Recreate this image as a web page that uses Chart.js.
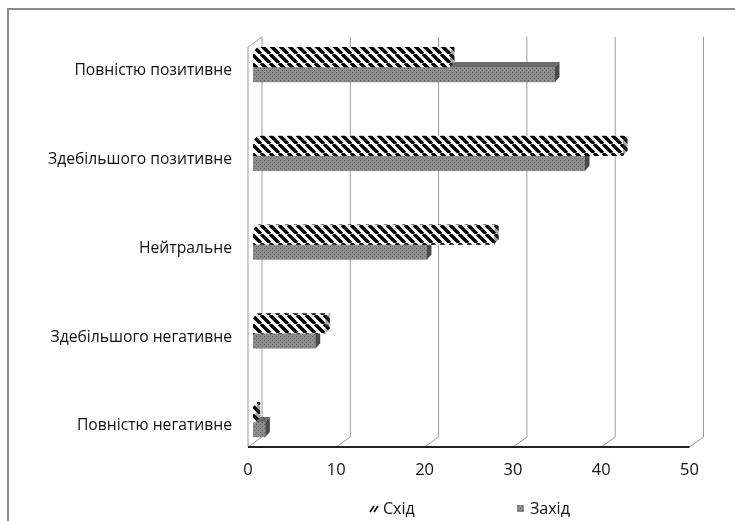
<!DOCTYPE html>
<html>
<head>
<meta charset="utf-8">
<script src="https://cdn.jsdelivr.net/npm/chart.js@4.4.1/dist/chart.umd.min.js"></script>
<style>
  html, body { margin: 0; padding: 0; background: #fff; }
  #wrap { position: relative; width: 735px; height: 521px; overflow: hidden; }
  #legend { position: absolute; left: 0; top: 498px; width: 735px; height: 20px;
            font-family: 'Open Sans', sans-serif; font-size: 16px; color: #111; }
  .item { position: absolute; top: 0; height: 20px; display: flex; align-items: center; white-space: nowrap; }
  .item canvas { margin-right: 4px; }
</style>
</head>
<body>
<div id="wrap">
  <canvas id="c" width="735" height="521"></canvas>
  <div id="legend"></div>
</div>
<script>
// ---- data ----
const categories = ['Повністю позитивне', 'Здебільшого позитивне', 'Нейтральне', 'Здебільшого негативне', 'Повністю негативне'];
const seriesNames = ['Схід', 'Захід'];
const eastValues = [22.3, 41.9, 27.3, 8.2, 0.3];
const westValues = [34.2, 37.6, 19.7, 7.1, 1.4];
const xTicks = [0, 10, 20, 30, 40, 50];

// ---- fills ----
function hatchPattern(ctx) {
  const p = 9;
  const c = document.createElement('canvas');
  c.width = p; c.height = p;
  const g = c.getContext('2d');
  g.fillStyle = '#fff'; g.fillRect(0, 0, p, p);
  g.strokeStyle = '#000'; g.lineWidth = 3.4;
  for (const o of [-p, 0, p]) { g.beginPath(); g.moveTo(o, 0); g.lineTo(o + p, p); g.stroke(); }
  return ctx.createPattern(c, 'repeat');
}
function dotPattern(ctx, base, dot) {
  const c = document.createElement('canvas');
  c.width = 4; c.height = 4;
  const g = c.getContext('2d');
  g.fillStyle = base; g.fillRect(0, 0, 4, 4);
  g.fillStyle = dot; g.fillRect(0, 0, 1, 1); g.fillRect(2, 2, 1, 1);
  return ctx.createPattern(c, 'repeat');
}

const canvas = document.getElementById('c');
const ctx = canvas.getContext('2d');
const hatch = hatchPattern(ctx);
const dots = dotPattern(ctx, '#8c8c8c', '#666666');

const faceStyles = [
  { top: hatch, topShade: 'rgba(0,0,0,0.08)', side: hatch, sideShade: 'rgba(60,60,60,0.45)' },
  { top: '#6a6a6a', topShade: null, side: '#4a4a4a', sideShade: null }
];

const frame3d = {
  id: 'frame3d',
  beforeDraw(chart) {
    const { ctx, chartArea: a, scales: { x } } = chart;
    ctx.save();
    ctx.strokeStyle = '#8a8a8a'; ctx.lineWidth = 2;
    ctx.beginPath(); ctx.moveTo(8, chart.height); ctx.lineTo(8, 9); ctx.lineTo(chart.width, 9); ctx.stroke();

    const top = a.top, backBottom = a.bottom - 10, front = a.bottom;
    ctx.strokeStyle = '#9a9a9a'; ctx.lineWidth = 1;
    xTicks.forEach(v => {
      const px = x.getPixelForValue(v);
      ctx.beginPath(); ctx.moveTo(px + 9, top); ctx.lineTo(px + 9, backBottom); ctx.lineTo(px - 5, front); ctx.stroke();
    });
    const x0 = x.getPixelForValue(xTicks[0]);
    ctx.beginPath(); ctx.moveTo(x0 - 5, front); ctx.lineTo(x0 - 5, top + 10); ctx.lineTo(x0 + 9, top); ctx.stroke();
    ctx.strokeStyle = '#222'; ctx.lineWidth = 2;
    ctx.beginPath(); ctx.moveTo(x0 - 5, front); ctx.lineTo(x.getPixelForValue(xTicks[xTicks.length - 1]) - 5, front); ctx.stroke();
    ctx.restore();
  },
  afterDatasetDraw(chart, args) {
    const { ctx } = chart;
    const st = faceStyles[args.index];
    const dx = 4.5, dy = 5;
    args.meta.data.forEach(bar => {
      const { x, y, base, height } = bar.getProps(['x', 'y', 'base', 'height'], true);
      const t = y - height / 2, b = y + height / 2, l = Math.min(base, x), r = Math.max(base, x);
      ctx.save();
      ctx.beginPath();
      ctx.moveTo(l, t); ctx.lineTo(r, t); ctx.lineTo(r + dx, t - dy); ctx.lineTo(l + dx, t - dy); ctx.closePath();
      ctx.fillStyle = st.top; ctx.fill();
      if (st.topShade) { ctx.fillStyle = st.topShade; ctx.fill(); }
      ctx.beginPath();
      ctx.moveTo(r, t); ctx.lineTo(r + dx, t - dy); ctx.lineTo(r + dx, b - dy); ctx.lineTo(r, b); ctx.closePath();
      ctx.fillStyle = st.side; ctx.fill();
      if (st.sideShade) { ctx.fillStyle = st.sideShade; ctx.fill(); }
      ctx.restore();
    });
  }
};

const chart = new Chart(ctx, {
  type: 'bar',
  data: {
    datasets: [
      { label: seriesNames[0], data: eastValues.map((v, i) => ({ x: v, y: i })), backgroundColor: hatch, borderWidth: 0 },
      { label: seriesNames[1], data: westValues.map((v, i) => ({ x: v, y: i })), backgroundColor: dots, borderWidth: 0 }
    ]
  },
  options: {
    indexAxis: 'y',
    responsive: false,
    animation: false,
    devicePixelRatio: 1,
    datasets: { bar: { barThickness: 15 } },
    layout: { padding: { top: 37, right: 40.5, bottom: 0, left: 0 } },
    scales: {
      x: {
        type: 'linear', min: 0, max: 50,
        grid: { display: false, drawTicks: false }, border: { display: false },
        ticks: { stepSize: 10, padding: 13, labelOffset: -5, color: '#111', font: { family: 'Open Sans', size: 16.5 } },
        afterFit: s => { s.height = 74; }
      },
      y: {
        type: 'linear', reverse: true, offset: false, min: -0.338, max: 4.282,
        grid: { display: false, drawTicks: false }, border: { display: false },
        afterBuildTicks: s => { s.ticks = categories.map((c, i) => ({ value: i })); },
        ticks: { padding: 21, labelOffset: 4, color: '#111', font: { family: 'Open Sans', size: 15.7 },
                 callback: v => (categories[v] !== undefined ? categories[v] : '') },
        afterFit: s => { s.width = 253; }
      }
    },
    plugins: { legend: { display: false }, tooltip: { enabled: false } }
  },
  plugins: [frame3d]
});

// ---- HTML legend built from the chart's datasets ----
(function buildLegend() {
  const lefts = [369, 516];
  const box = document.getElementById('legend');
  chart.data.datasets.forEach((ds, i) => {
    const item = document.createElement('div');
    item.className = 'item';
    item.style.left = lefts[i] + 'px';
    const ic = document.createElement('canvas');
    ic.width = 10; ic.height = 9;
    const g = ic.getContext('2d');
    if (i === 0) {
      g.strokeStyle = '#000'; g.lineWidth = 1.6;
      g.beginPath(); g.moveTo(1, 8); g.lineTo(5, 2); g.stroke();
      g.beginPath(); g.moveTo(5, 8); g.lineTo(9, 2); g.stroke();
    } else {
      g.fillStyle = dotPattern(g, '#8c8c8c', '#555555'); g.fillRect(1, 1, 7, 7);
    }
    const tx = document.createElement('span');
    tx.textContent = ds.label;
    item.appendChild(ic); item.appendChild(tx);
    box.appendChild(item);
  });
})();
</script>
</body>
</html>
